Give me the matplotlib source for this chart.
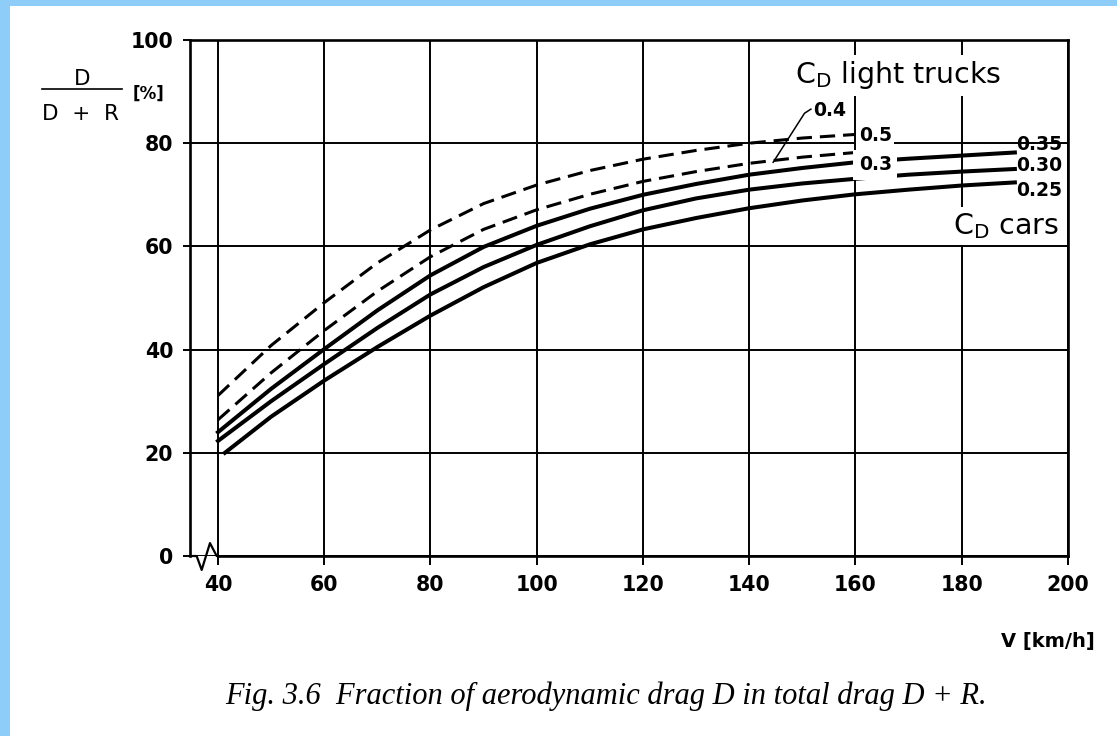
import matplotlib
matplotlib.use('Agg')
import matplotlib.pyplot as plt
from matplotlib.lines import Line2D
from matplotlib.patches import Rectangle

# speed V [km/h]
speed_trucks = [40, 50, 60, 70, 80, 90, 100, 110, 120, 130, 140, 150, 160]
speed_cars = [40, 50, 60, 70, 80, 90, 100, 110, 120, 130, 140, 150, 160, 170, 180, 190]
speed_cars_025 = [41.3, 50, 60, 70, 80, 90, 100, 110, 120, 130, 140, 150, 160, 170, 180, 190]

# D / (D + R) [%]
trucks_05 = [31.1, 40.8, 49.1, 56.8, 63.2, 68.3, 71.9, 74.7, 76.9, 78.6, 80.0, 81.0, 81.7]
trucks_04 = [26.4, 35.5, 43.7, 51.3, 58.0, 63.3, 67.1, 70.1, 72.6, 74.5, 76.1, 77.3, 78.2]
cars_035 = [24.0, 32.4, 40.1, 47.6, 54.4, 59.9, 64.0, 67.3, 70.0, 72.1, 73.9, 75.2, 76.3, 77.0, 77.6, 78.2]
cars_030 = [22.3, 30.0, 37.2, 44.2, 50.7, 56.0, 60.3, 63.9, 67.0, 69.3, 71.0, 72.2, 73.1, 73.9, 74.5, 75.0]
cars_025 = [20.0, 27.0, 34.0, 40.5, 46.6, 52.1, 56.8, 60.4, 63.3, 65.5, 67.4, 68.9, 70.1, 71.0, 71.8, 72.4]

x_ticks = [40, 60, 80, 100, 120, 140, 160, 180, 200]
y_ticks = [0, 20, 40, 60, 80, 100]

W, H = 1117, 736
BOLD = 'DejaVu Sans'


def fx(px):
    return px / W


def fy(py):
    return 1 - py / H


fig = plt.figure(figsize=(W / 100, H / 100), dpi=100)
fig.patch.set_facecolor('white')

# light blue frame of the slide
fig.patches.append(Rectangle((0, 0), fx(10), 1, transform=fig.transFigure,
                             facecolor='#8ECDF7', edgecolor='none'))
fig.patches.append(Rectangle((0, fy(6)), 1, 1 - fy(6), transform=fig.transFigure,
                             facecolor='#8ECDF7', edgecolor='none'))

ax = fig.add_axes([fx(190), fy(556), fx(1068) - fx(190), fy(40) - fy(556)])
ax.set_xlim(34.73, 200)
ax.set_ylim(0, 100)

for s in ['left', 'right', 'top']:
    ax.spines[s].set_linewidth(1.9)
ax.spines['bottom'].set_visible(False)

ax.set_xticks(x_ticks)
ax.set_yticks(y_ticks)
ax.grid(True, color='black', linewidth=1.4)
ax.tick_params(axis='x', direction='out', length=6.5, width=1.4, pad=7,
               labelsize=14.8)
ax.tick_params(axis='y', direction='out', length=5, width=1.4, pad=7,
               labelsize=14.8)
for lab in ax.get_xticklabels() + ax.get_yticklabels():
    lab.set_fontweight('bold')
    lab.set_family(BOLD)

# bottom axis with the break mark between the origin and 40 km/h
ax.plot([40, 200], [0, 0], color='black', lw=1.9, clip_on=False, zorder=5)
ax.plot([34.73, 35.98, 36.93, 38.49, 39.75, 40.0],
        [0, 0, -2.7, 2.5, 0, 0], color='black', lw=1.6,
        clip_on=False, zorder=5)

# curves
dash = dict(color='black', lw=2.2, dashes=[5, 2.6], zorder=3,
            dash_joinstyle='round')
full = dict(color='black', lw=2.9, zorder=3, solid_joinstyle='round')
ax.plot(speed_trucks, trucks_05, **dash)
ax.plot(speed_trucks, trucks_04, **dash)
ax.plot(speed_cars, cars_035, **full)
ax.plot(speed_cars, cars_030, **full)
ax.plot(speed_cars_025, cars_025, **full)

white = dict(facecolor='white', edgecolor='none', pad=2)
small = dict(fontsize=13.5, fontweight='bold', family=BOLD, zorder=6)

# light truck labels
ax.text(160.6, 81.4, '0.5', ha='left', va='center', bbox=white, **small)
ax.text(160.6, 75.8, '0.3', ha='left', va='center',
        bbox=dict(facecolor='white', edgecolor='none', pad=4), **small)
ax.text(152.0, 86.4, '0.4', ha='left', va='center', **small)
ax.plot([144.5, 150.4, 151.6], [76.3, 85.8, 86.6], color='black', lw=1.1,
        zorder=6)

# car labels
ax.text(190.3, 79.8, '0.35', ha='left', va='center', **small)
ax.text(190.3, 75.6, '0.30', ha='left', va='center', **small)
ax.text(190.3, 70.9, '0.25', ha='left', va='center', **small)

ax.text(148.6, 91.6, r'C$_\mathregular{D}$ light trucks', ha='left',
        va='baseline', fontsize=20.5, family='DejaVu Sans', zorder=6,
        bbox=dict(facecolor='white', edgecolor='none', pad=3))
ax.text(178.4, 62.4, r'C$_\mathregular{D}$ cars', ha='left',
        va='baseline', fontsize=20.5, family='DejaVu Sans', zorder=6,
        bbox=dict(facecolor='white', edgecolor='none', pad=3))

# y axis label as a fraction
fig.text(fx(82), fy(85), 'D', ha='center', va='baseline', fontsize=15.5,
         family='DejaVu Sans')
fig.add_artist(Line2D([fx(42), fx(122)], [fy(89), fy(89)], color='black',
                      lw=1.2, transform=fig.transFigure))
fig.text(fx(81), fy(120), 'D  +  R', ha='center', va='baseline', fontsize=15.5,
         family='DejaVu Sans')
fig.text(fx(133), fy(94), '[%]', ha='left', va='center', fontsize=12,
         fontweight='bold', family=BOLD)

fig.text(fx(1095), fy(647), 'V [km/h]', ha='right', va='baseline',
         fontsize=14, fontweight='bold', family=BOLD)

fig.text(fx(987), fy(704),
         'Fig. 3.6  Fraction of aerodynamic drag D in total drag D + R.',
         ha='right', va='baseline', fontsize=22, style='italic',
         family='Liberation Serif')

fig.savefig('out.png', dpi=100, facecolor='white')
